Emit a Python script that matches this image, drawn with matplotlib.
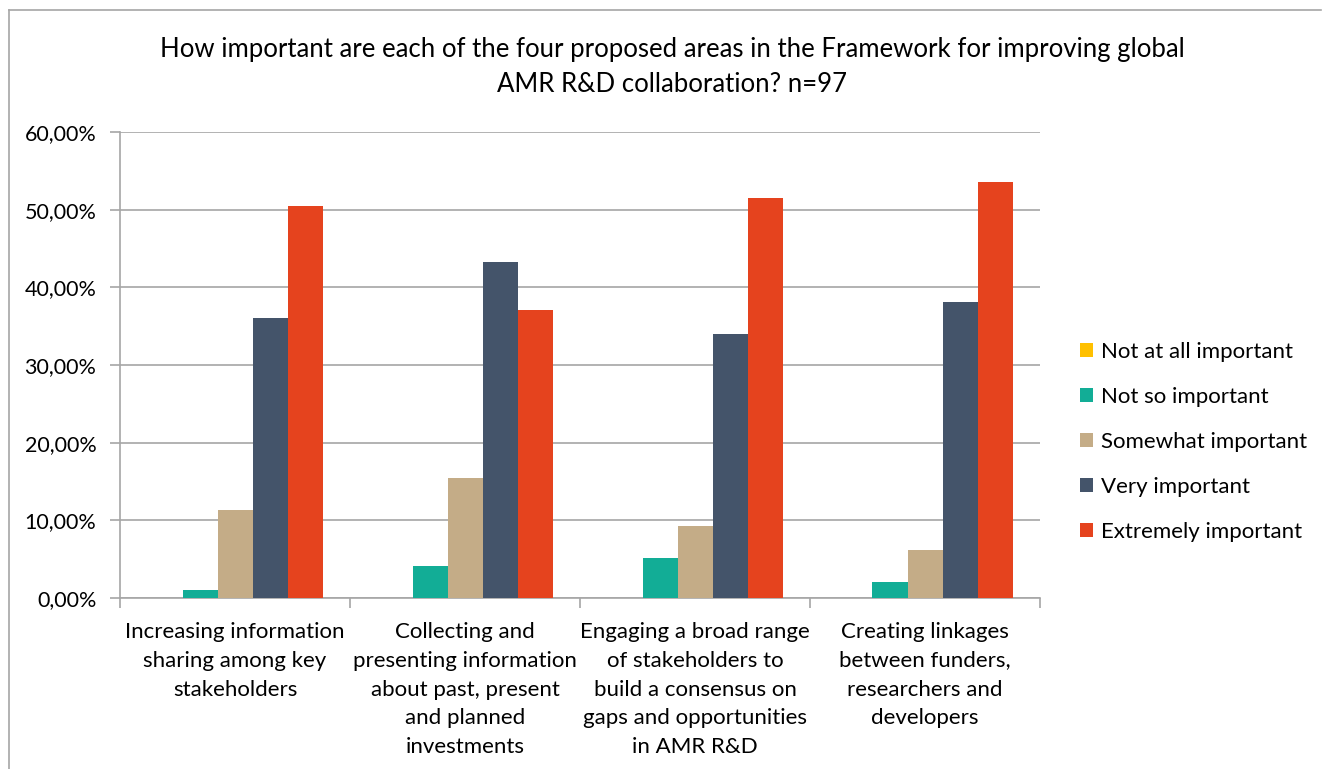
import numpy as np
import matplotlib.pyplot as plt
from matplotlib.lines import Line2D
from matplotlib.patches import Patch
from matplotlib.ticker import FuncFormatter

plt.rcParams['font.family'] = ['Lato', 'DejaVu Sans']

# ---- data (percent of n=97) ----
categories = [
    "Increasing information\nsharing among key\nstakeholders",
    "Collecting and\npresenting information\nabout past, present\nand planned\ninvestments",
    "Engaging a broad range\nof stakeholders to\nbuild a consensus on\ngaps and opportunities\nin AMR R&D",
    "Creating linkages\nbetween funders,\nresearchers and\ndevelopers",
]
series_names = ["Not at all important", "Not so important", "Somewhat important",
                "Very important", "Extremely important"]
not_at_all = [0.0, 0.0, 0.0, 0.0]
not_so = [1.03, 4.12, 5.15, 2.06]
somewhat = [11.34, 15.46, 9.28, 6.19]
very = [36.08, 43.30, 34.02, 38.14]
extremely = [50.52, 37.11, 51.55, 53.61]
colors = ["#FFC000", "#12AD96", "#C4AC87", "#44546A", "#E5431E"]

values = [not_at_all, not_so, somewhat, very, extremely]

# ---- figure ----
fig = plt.figure(figsize=(13.22, 7.69), dpi=100)
ax = fig.add_axes([120 / 1322, 1 - 598 / 769, 920 / 1322, 466 / 769])

n_cat = len(categories)
n_ser = len(series_names)
bar_w = 35 / 230
x = np.arange(n_cat)
for i, (vals, col) in enumerate(zip(values, colors)):
    offs = (i - (n_ser - 1) / 2) * bar_w
    ax.bar(x + offs, vals, width=bar_w, color=col, zorder=3)

ax.set_xlim(-0.5, n_cat - 0.5)
ax.set_ylim(0, 60)
ax.set_yticks(np.arange(0, 61, 10))
ax.yaxis.set_major_formatter(FuncFormatter(lambda v, p: f"{v:.2f}%".replace(".", ",")))
ax.grid(axis="y", color="#A6A6A6", linewidth=1.2, zorder=0)

# category boundaries as major ticks, labels on minor ticks
ax.set_xticks(np.arange(-0.5, n_cat, 1.0))
ax.set_xticklabels([])
ax.set_xticks(x, minor=True)
ax.set_xticklabels(categories, minor=True, fontsize=16, linespacing=1.56, va="top")
ax.tick_params(axis="x", which="major", length=7, color="#A6A6A6", width=1.2)
ax.tick_params(axis="x", which="minor", length=0, pad=17)
ax.tick_params(axis="y", length=7, color="#A6A6A6", width=1.2, labelsize=15.5, pad=10)

for s in ["top", "right"]:
    ax.spines[s].set_visible(False)
for s in ["left", "bottom"]:
    ax.spines[s].set_color("#A6A6A6")
    ax.spines[s].set_linewidth(1.2)

fig.text(672 / 1322, 1 - 67 / 769,
         "How important are each of the four proposed areas in the Framework for improving global\nAMR R&D collaboration? n=97",
         ha="center", va="center", fontsize=18.5, linespacing=1.45)

handles = [Patch(facecolor=c, edgecolor="none") for c in colors]
fig.legend(handles, series_names, loc="center left", bbox_to_anchor=(1060 / 1322, 1 - 442 / 769),
           frameon=False, fontsize=16, handlelength=0.6, handleheight=0.6,
           handletextpad=0.35, labelspacing=1.13)

# chart border
fig.add_artist(Line2D([9 / 1322, 9 / 1322], [0, 1 - 10 / 769], color="#A6A6A6", lw=1.2))
fig.add_artist(Line2D([9 / 1322, 1321 / 1322], [1 - 10 / 769, 1 - 10 / 769], color="#A6A6A6", lw=1.2))

fig.savefig("out.png", dpi=100)
